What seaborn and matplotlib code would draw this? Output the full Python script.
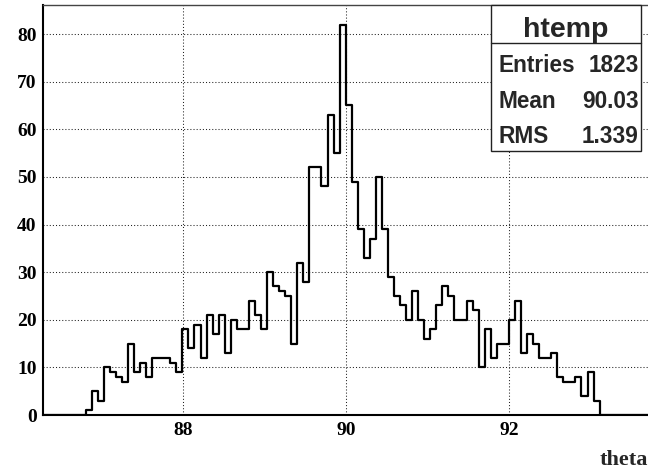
import numpy as np
import pandas as pd
import matplotlib
matplotlib.use("Agg")
import matplotlib.pyplot as plt
from matplotlib.patches import Rectangle
from matplotlib.lines import Line2D
from matplotlib.ticker import MultipleLocator
import seaborn as sns

# ---- histogram contents (100 fixed-width bins) ----
n_bins = 100
x_min, x_max = 86.293, 93.699
leading_zeros = [0] * 7
counts_low = [1, 5, 3, 10, 9, 8, 7, 15, 9, 11, 8, 12, 12, 12, 11, 9, 18, 14, 19,
              12, 21, 17, 21, 13, 20]
counts_mid = [18, 18, 24, 21, 18, 30, 27, 26, 25, 15, 32, 28, 52, 52, 48, 63, 55,
              82, 65, 49, 39, 33, 37, 50, 39, 29, 25, 23, 20, 26, 20, 16]
counts_high = [18, 23, 27, 25, 20, 20, 24, 22, 10, 18, 12, 15, 15, 20, 24, 13, 17,
               15, 12, 12, 13, 8, 7, 7, 8, 4, 9, 3]
trailing_zeros = [0] * 8
counts = leading_zeros + counts_low + counts_mid + counts_high + trailing_zeros

# statistics box
stats_title = "htemp"
stats_names = ["Entries", "Mean", "RMS"]
stats_values = ["1823", "90.03", "1.339"]
x_label = "theta"

edges = np.linspace(x_min, x_max, n_bins + 1)
centers = 0.5 * (edges[:-1] + edges[1:])
df = pd.DataFrame({"theta": centers, "n": counts})

sns.set_style("white")
plt.rcParams["font.family"] = ["Liberation Serif", "DejaVu Serif"]
plt.rcParams["font.weight"] = "bold"

W, H = 648, 470
fig = plt.figure(figsize=(W / 100, H / 100), dpi=100)


def fx(px):
    return px / W


def fy(py):
    return 1 - py / H


ax = fig.add_axes([fx(43.3), fy(415), fx(648 - 43.3), 410 / H])

sns.histplot(data=df, x="theta", weights="n", bins=n_bins, binrange=(x_min, x_max),
             element="step", fill=False, color="black", linewidth=1.6, ax=ax, zorder=3)

ax.set_xlim(x_min, x_max)
ax.set_ylim(0, 86.1)
ax.set_xlabel("")
ax.set_ylabel("")

ax.xaxis.set_major_locator(MultipleLocator(2))
ax.xaxis.set_minor_locator(MultipleLocator(0.5))
ax.yaxis.set_major_locator(MultipleLocator(10))
ax.yaxis.set_minor_locator(MultipleLocator(2))

ax.grid(True, which="major", color="#222222", linestyle=(0, (1, 2)), linewidth=0.75)

ax.tick_params(axis="x", which="major", direction="in", length=10, width=0.8,
               labelsize=14, pad=5, colors="black")
ax.tick_params(axis="x", which="minor", direction="in", length=5, width=0.8)
ax.tick_params(axis="y", which="major", direction="in", length=13, width=0.8,
               labelsize=14, pad=4.8, colors="black")
ax.tick_params(axis="y", which="minor", direction="in", length=6.8, width=0.8)
for lbl in ax.get_xticklabels() + ax.get_yticklabels():
    lbl.set_fontweight("bold")

for side in ("left", "bottom"):
    ax.spines[side].set_linewidth(1.5)
    ax.spines[side].set_color("black")
ax.spines["top"].set_linewidth(1.0)
ax.spines["top"].set_color("#444444")
ax.spines["right"].set_visible(False)

# x axis title at the right end
fig.text(fx(647.5), fy(465), x_label, ha="right", va="baseline",
         fontsize=16, fontweight="bold", family=["Liberation Serif", "DejaVu Serif"])

# statistics box
box_l, box_r, box_t, box_b, box_sep = 491, 641, 5, 150.7, 42.7
fig.add_artist(Rectangle((fx(box_l), fy(box_b)), fx(box_r - box_l), (box_b - box_t) / H,
                         transform=fig.transFigure, facecolor="white",
                         edgecolor="#222222", linewidth=1.0, zorder=5))
fig.add_artist(Line2D([fx(box_l), fx(box_r)], [fy(box_sep)] * 2,
                      transform=fig.transFigure, color="#222222", linewidth=1.0, zorder=6))

sans = ["Liberation Sans", "DejaVu Sans"]
fig.text(fx(565.5), fy(37), stats_title, ha="center", va="baseline",
         fontsize=20.5, fontweight="bold", family=sans, zorder=7)
row_baselines = [71.7, 108.0, 143.3]
for name, value, yb in zip(stats_names, stats_values, row_baselines):
    fig.text(fx(499), fy(yb), name, ha="left", va="baseline",
             fontsize=16.3, fontweight="bold", family=sans, zorder=7)
    fig.text(fx(638.7), fy(yb), value, ha="right", va="baseline",
             fontsize=16.3, fontweight="bold", family=sans, zorder=7)

fig.savefig("out.png", dpi=100)
